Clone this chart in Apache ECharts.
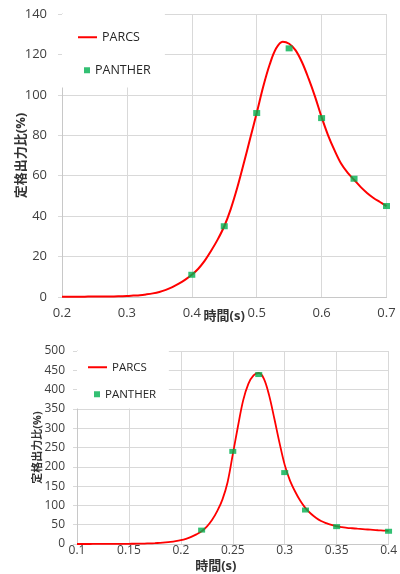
<!DOCTYPE html>
<html>
<head>
<meta charset="utf-8">
<style>
  html, body { margin: 0; padding: 0; background: #ffffff; }
  #chart { width: 400px; height: 574px; }
</style>
<script src="https://cdn.jsdelivr.net/npm/echarts@6/dist/echarts.min.js"></script>
</head>
<body>
<div id="chart"></div>
<script>
// Upper transient: rated power ratio (%) vs time (s), PARCS sampled every 0.01 s
const upperParcsTime = [0.20, 0.21, 0.22, 0.23, 0.24, 0.25, 0.26, 0.27, 0.28, 0.29,
                        0.30, 0.31, 0.32, 0.33, 0.34, 0.35, 0.36, 0.37, 0.38, 0.39,
                        0.40, 0.41, 0.42, 0.43, 0.44, 0.45, 0.46, 0.47, 0.48, 0.49,
                        0.50, 0.51, 0.52, 0.53, 0.54, 0.55, 0.56, 0.57, 0.58, 0.59,
                        0.60, 0.61, 0.62, 0.63, 0.64, 0.65, 0.66, 0.67, 0.68, 0.69, 0.70];
const upperParcs     = [0.1, 0.1, 0.1, 0.1, 0.2, 0.2, 0.2, 0.3, 0.3, 0.4,
                        0.5, 0.7, 0.9, 1.3, 1.8, 2.5, 3.5, 4.9, 6.6, 8.6,
                        11, 14, 18, 23, 28.5, 35, 43.5, 54, 66, 78.5,
                        91, 104, 115, 123, 126.3, 125.3, 122, 116, 108, 99,
                        89, 80, 72.5, 66, 61.5, 58, 54.5, 51.5, 49, 47, 45];
const upperPantherTime = [0.40, 0.45, 0.50, 0.55, 0.60, 0.65, 0.70];
const upperPanther     = [11, 35, 91, 123, 88.5, 58.5, 45];

// Lower transient, PARCS sampled every 0.005 s
const lowerParcsTime = [0.100, 0.105, 0.110, 0.115, 0.120, 0.125, 0.130, 0.135, 0.140, 0.145,
                        0.150, 0.155, 0.160, 0.165, 0.170, 0.175, 0.180, 0.185, 0.190, 0.195,
                        0.200, 0.205, 0.210, 0.215, 0.220, 0.225, 0.230, 0.235, 0.240, 0.245,
                        0.250, 0.255, 0.260, 0.265, 0.270, 0.275, 0.280, 0.285, 0.290, 0.295,
                        0.300, 0.305, 0.310, 0.315, 0.320, 0.325, 0.330, 0.335, 0.340, 0.345,
                        0.350, 0.355, 0.360, 0.365, 0.370, 0.375, 0.380, 0.385, 0.390, 0.395, 0.400];
const lowerParcs     = [0, 0, 0, 0.1, 0.1, 0.1, 0.2, 0.2, 0.3, 0.4,
                        0.5, 0.7, 0.9, 1.2, 1.6, 2.2, 3, 4, 5.3, 7.2,
                        9.8, 13.5, 18.5, 25, 33, 45, 62, 85, 115, 160,
                        232, 305, 372, 415, 437, 443, 428, 385, 325, 262,
                        205, 165, 136, 112, 93, 79, 68, 59.5, 54, 49.5,
                        46, 44, 42, 40.8, 39.6, 38.6, 37.6, 36.6, 35.6, 34.8, 34];
const lowerPantherTime = [0.22, 0.25, 0.275, 0.30, 0.32, 0.35, 0.40];
const lowerPanther     = [36, 240, 439, 185, 88, 45, 33];

// Axis tick settings
const upperX = { min: 0.2, max: 0.7, interval: 0.1 };
const upperY = { min: 0, max: 140, interval: 20 };
const lowerX = { min: 0.1, max: 0.4, interval: 0.05 };
const lowerY = { min: 0, max: 500, interval: 50 };

const seriesNames = ['PARCS', 'PANTHER'];
const xTitle = '時間(s)';
const yTitle = '定格出力比(%)';

const zip = (xs, ys) => xs.map((x, i) => [x, ys[i]]);

const FONT = '"Open Sans", "Noto Sans CJK JP", sans-serif';
const LABEL_COLOR = '#404040';
const GRID_COLOR = '#d9d9d9';
const RED = '#ff0000';
const GREEN = '#00b050';

function xAxisDef(idx, range, fontSize, labelMargin, nameGap, namePad) {
  return {
    type: 'value', gridIndex: idx,
    min: range.min, max: range.max, interval: range.interval,
    name: xTitle, nameLocation: 'middle', nameGap: nameGap, nameMoveOverlap: false,
    nameTextStyle: { fontFamily: FONT, fontWeight: 'bold', fontSize: 13, color: '#333333', padding: namePad },
    axisLine: { show: true, lineStyle: { color: '#c8c8c8', width: 1 } },
    axisTick: { show: false },
    axisLabel: {
      fontFamily: FONT, fontSize: fontSize, color: LABEL_COLOR, margin: labelMargin,
      formatter: v => String(parseFloat(v.toFixed(2)))
    },
    splitLine: { show: true, lineStyle: { color: GRID_COLOR, width: 1 } }
  };
}

function yAxisDef(idx, range, fontSize, labelMargin, nameGap, nameSize) {
  return {
    type: 'value', gridIndex: idx,
    min: range.min, max: range.max, interval: range.interval,
    name: yTitle, nameLocation: 'middle', nameGap: nameGap, nameRotate: 90, nameMoveOverlap: false,
    nameTextStyle: { fontFamily: FONT, fontWeight: 'bold', fontSize: nameSize, color: '#333333' },
    axisLine: { show: true, lineStyle: { color: '#c8c8c8', width: 1 } },
    axisTick: { show: true, length: 4, lineStyle: { color: GRID_COLOR } },
    axisLabel: { fontFamily: FONT, fontSize: fontSize, color: LABEL_COLOR, margin: labelMargin },
    splitLine: { show: true, lineStyle: { color: GRID_COLOR, width: 1 } }
  };
}

function legendPair(boxLeft, boxTop, boxRight, boxBottom, lineLeft, lineTop, sqLeft, sqTop, fontSize) {
  const text = { fontFamily: FONT, fontSize: fontSize, color: '#262626' };
  return [
    {
      // white panel holding both entries
      data: [{ name: seriesNames[0], icon: 'rect' }], orient: 'vertical',
      left: boxLeft, top: boxTop,
      padding: [lineTop - boxTop, boxRight - lineLeft - 60, boxBottom - lineTop - 12, lineLeft - boxLeft],
      backgroundColor: '#ffffff',
      itemWidth: 19, itemHeight: 2, itemGap: 0, itemTextGap: 1,
      textStyle: text, selectedMode: false, z: 4
    },
    {
      data: [seriesNames[1]], orient: 'vertical',
      left: sqLeft, top: sqTop, padding: 0,
      itemWidth: 6, itemHeight: 6, itemGap: 0, itemTextGap: 8,
      textStyle: text, selectedMode: false, z: 6
    }
  ];
}

const legends = [].concat(
  legendPair(62, 14, 163, 87, 78, 31, 84, 64, 12.5),
  legendPair(77, 351, 170, 409, 88, 361.5, 94, 388.5, 11.5)
);

const option = {
  backgroundColor: '#ffffff',
  animation: false,
  grid: [
    { left: 62, top: 14, width: 324.5, height: 283 },
    { left: 77, top: 351, width: 313.5, height: 196 }
  ],
  xAxis: [
    xAxisDef(0, upperX, 13, 10, 13, [0, 0, 0, 0]),
    xAxisDef(1, lowerX, 12, 1, 16, [0, 34, 0, 0])
  ],
  yAxis: [
    yAxisDef(0, upperY, 13, 15, 34, 13),
    yAxisDef(1, lowerY, 12, 12, 34, 11)
  ],
  legend: legends,
  series: [
    {
      name: seriesNames[0], type: 'line', xAxisIndex: 0, yAxisIndex: 0,
      data: zip(upperParcsTime, upperParcs),
      symbol: 'none', smooth: 0.35,
      lineStyle: { color: RED, width: 2 }, itemStyle: { color: RED }, z: 3
    },
    {
      name: seriesNames[1], type: 'scatter', xAxisIndex: 0, yAxisIndex: 0,
      data: zip(upperPantherTime, upperPanther),
      symbol: 'rect', symbolSize: [7, 6],
      itemStyle: { color: GREEN }, z: 4
    },
    {
      name: seriesNames[0], type: 'line', xAxisIndex: 1, yAxisIndex: 1,
      data: zip(lowerParcsTime, lowerParcs),
      symbol: 'none', smooth: 0.35,
      lineStyle: { color: RED, width: 1.8 }, itemStyle: { color: RED }, z: 3
    },
    {
      name: seriesNames[1], type: 'scatter', xAxisIndex: 1, yAxisIndex: 1,
      data: zip(lowerPantherTime, lowerPanther),
      symbol: 'rect', symbolSize: [7, 5],
      itemStyle: { color: GREEN }, z: 4
    }
  ]
};

const chart = echarts.init(document.getElementById('chart'), null, { renderer: 'canvas' });
chart.setOption(option);
</script>
</body>
</html>
